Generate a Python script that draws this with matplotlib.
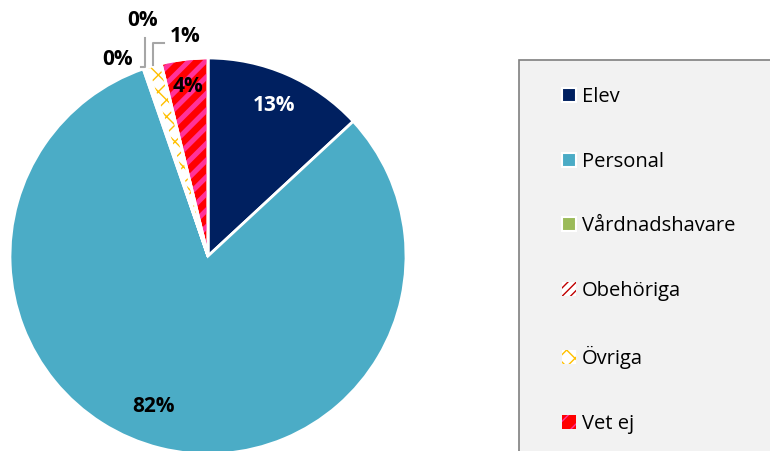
import numpy as np
import matplotlib
matplotlib.use("Agg")
import matplotlib.pyplot as plt
from matplotlib.patches import Wedge, Patch, Rectangle

plt.rcParams['font.family'] = ['Open Sans', 'DejaVu Sans']

# data
categories = ['Elev', 'Personal', 'Vårdnadshavare', 'Obehöriga', 'Övriga', 'Vet ej']
values = [13.1, 81.6, 0.1, 0.2, 1.2, 3.8]
labels = ['13%', '82%', '0%', '0%', '1%', '4%']
colors = ['#002060', '#4bacc6', '#9bbb59', '#ffffff', '#ffffff', '#ff0000']
hatches = [None, None, None, '////', 'xx', '//']
hatch_colors = [None, None, None, '#c00000', '#ffc000', '#ff3399']

fig = plt.figure(figsize=(7.7, 4.51), dpi=100)
ax = fig.add_axes([10 / 770, -3 / 451, 396 / 770, 396 / 451])

wedges, _ = ax.pie(values, colors=colors, startangle=90, counterclock=False,
                   wedgeprops=dict(edgecolor='white', linewidth=2))
ax.set_xlim(-1, 1)
ax.set_ylim(-1, 1)
ax.axis('off')

# hatch overlays + white borders on top
for w, h, hc in zip(wedges, hatches, hatch_colors):
    if h is None:
        continue
    lw = 3.6 if hc == '#ff3399' else 1.0
    with plt.rc_context({'hatch.linewidth': lw}):
        ov = Wedge(w.center, w.r, w.theta1, w.theta2, facecolor='none',
                   edgecolor=hc, linewidth=0, hatch=h, zorder=3)
    ax.add_patch(ov)
    ax.add_patch(Wedge(w.center, w.r, w.theta1, w.theta2, fill=False,
                       edgecolor='white', linewidth=2, zorder=4))

# data labels
def mid(w):
    return np.deg2rad((w.theta1 + w.theta2) / 2)

lab_kw = dict(ha='center', va='center', fontsize=15, fontweight='bold', zorder=6)
a = mid(wedges[0])
ax.text(0.83 * np.cos(a), 0.83 * np.sin(a), labels[0], color='white', **lab_kw)
a = mid(wedges[1]) + np.deg2rad(-6)
ax.text(0.81 * np.cos(a), 0.81 * np.sin(a), labels[1], color='black', **lab_kw)
a = mid(wedges[5])
ax.text(0.86 * np.cos(a), 0.86 * np.sin(a), labels[5], color='black', **lab_kw)

# small slices with leader lines
ax.text(-0.455, 0.99, labels[2], color='black', **lab_kw)
ax.text(-0.33, 1.19, labels[3], color='black', **lab_kw)
ax.text(-0.115, 1.11, labels[4], color='black', **lab_kw)
ax.plot([-0.34, -0.32, -0.32], [0.955, 0.955, 1.10], color='#a6a6a6', lw=1.5,
        clip_on=False, zorder=5)
ax.plot([-0.278, -0.278, -0.22], [0.965, 1.075, 1.075], color='#a6a6a6', lw=1.5,
        clip_on=False, zorder=5)

# legend box
fig.patches.append(Rectangle((519 / 770, -0.1), 0.5, 1 - 60 / 451 + 0.1,
                             transform=fig.transFigure, facecolor='#f2f2f2',
                             edgecolor='#7f7f7f', linewidth=1.2, zorder=0))
handles = []
for c, h, hc in zip(colors, hatches, hatch_colors):
    if h is None:
        handles.append(Patch(facecolor=c, edgecolor='white', linewidth=1.5))
    else:
        with plt.rc_context({'hatch.linewidth': 2.0}):
            handles.append(Patch(facecolor=c, edgecolor=hc, linewidth=0, hatch=h))
leg = fig.legend(handles, categories, loc='upper left',
                 bbox_to_anchor=(552 / 770, 1 - 77 / 451), frameon=False,
                 fontsize=14.5, handlelength=0.7, handleheight=0.7,
                 handletextpad=0.3, labelspacing=2.22, borderpad=0)

fig.savefig('out.png', dpi=100)
